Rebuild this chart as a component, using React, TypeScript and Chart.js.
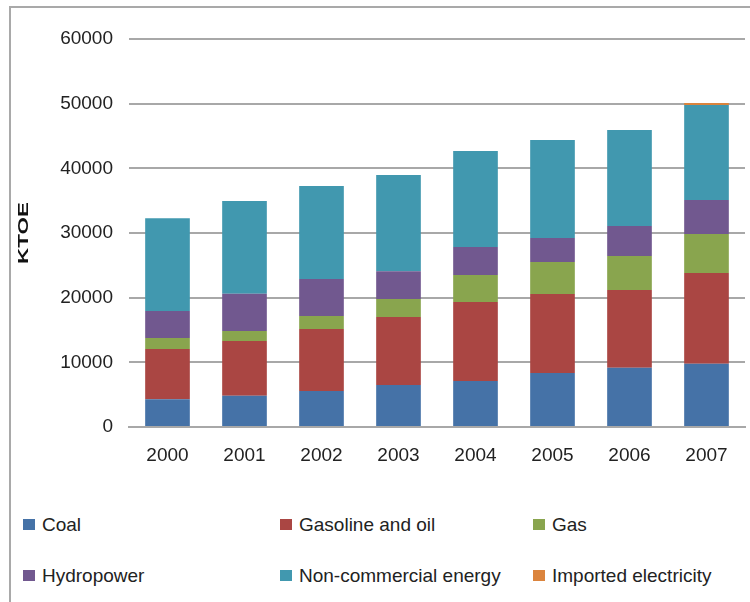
import React, { useEffect, useRef } from "react";
import { Chart, registerables } from "chart.js";

Chart.register(...registerables);

const years = ["2000", "2001", "2002", "2003", "2004", "2005", "2006", "2007"];
const coal = [4300, 4850, 5550, 6500, 7100, 8350, 9150, 9800];
const gasolineOil = [7750, 8450, 9600, 10500, 12230, 12220, 12030, 14000];
const gas = [1700, 1550, 2000, 2800, 4170, 4930, 5270, 6050];
const hydropower = [4200, 5750, 5750, 4300, 4330, 3730, 4630, 5250];
const nonCommercial = [14350, 14350, 14370, 14870, 14850, 15150, 14850, 14700];
const importedElectricity = [0, 0, 0, 0, 0, 0, 0, 300];

const seriesNames = [
  "Coal",
  "Gasoline and oil",
  "Gas",
  "Hydropower",
  "Non-commercial energy",
  "Imported electricity",
];
const seriesColors = ["#4572A7", "#AA4643", "#89A54E", "#71588F", "#4198AF", "#DB843D"];
const seriesValues = [coal, gasolineOil, gas, hydropower, nonCommercial, importedElectricity];
const yTicks = [0, 10000, 20000, 30000, 40000, 50000, 60000];

const FONT = "'Liberation Sans', Arial, Helvetica, sans-serif";

export default function App() {
  const canvasRef = useRef<HTMLCanvasElement | null>(null);

  useEffect(() => {
    const canvas = canvasRef.current;
    if (!canvas) return;
    const chart = new Chart(canvas, {
      type: "bar",
      data: {
        labels: years,
        datasets: seriesNames.map((name, i) => ({
          label: name,
          data: seriesValues[i],
          backgroundColor: seriesColors[i],
          borderWidth: 0,
          categoryPercentage: 1,
          barPercentage: 0.58,
        })),
      },
      options: {
        responsive: false,
        animation: false,
        layout: { padding: { top: 39, right: 5, left: 0, bottom: 0 } },
        plugins: {
          legend: { display: false },
          tooltip: { enabled: false },
        },
        scales: {
          x: {
            stacked: true,
            grid: { display: false, drawTicks: false },
            border: { display: true, color: "#a8a8a8", width: 2 },
            ticks: {
              padding: 17,
              color: "#222",
              font: { family: FONT, size: 19 },
            },
            afterFit: (scale: any) => {
              scale.height = 73;
            },
          },
          y: {
            stacked: true,
            min: 0,
            max: 60000,
            afterBuildTicks: (scale: any) => {
              scale.ticks = yTicks.map((v) => ({ value: v }));
            },
            grid: { color: "#a8a8a8", lineWidth: 2, drawTicks: false },
            border: { display: false },
            ticks: {
              padding: 16,
              color: "#222",
              font: { family: FONT, size: 19 },
              callback: (v: any) => String(v),
            },
            afterFit: (scale: any) => {
              scale.width = 129;
            },
          },
        },
      },
    });
    return () => chart.destroy();
  }, []);

  const colX = [23, 280, 533];
  const rowY = [525, 576];

  return (
    <div
      style={{
        position: "fixed",
        left: 0,
        top: 0,
        width: 750,
        height: 602,
        background: "#fff",
        overflow: "hidden",
        fontFamily: FONT,
      }}
    >
      <div
        style={{
          position: "absolute",
          left: 9,
          top: 6,
          width: 760,
          height: 620,
          borderLeft: "2px solid #a9a9a9",
          borderTop: "2px solid #a9a9a9",
        }}
      />
      <canvas
        ref={canvasRef}
        width={750}
        height={500}
        style={{ position: "absolute", left: 0, top: 0, width: 750, height: 500 }}
      />
      <div
        style={{
          position: "absolute",
          left: 23,
          top: 233,
          width: 0,
          height: 0,
        }}
      >
        <div
          style={{
            position: "absolute",
            left: -40,
            top: -10,
            width: 80,
            height: 20,
            lineHeight: "20px",
            textAlign: "center",
            fontWeight: "bold",
            fontSize: 14,
            color: "#111",
            transform: "rotate(-90deg) scale(1.6, 1)",
            transformOrigin: "50% 50%",
          }}
        >
          KTOE
        </div>
      </div>
      {seriesNames.map((name, i) => {
        const cx = colX[i % 3];
        const cy = rowY[Math.floor(i / 3)];
        return (
          <div key={name}>
            <div
              style={{
                position: "absolute",
                left: cx,
                top: cy - 6,
                width: 12,
                height: 11,
                background: seriesColors[i],
              }}
            />
            <div
              style={{
                position: "absolute",
                left: cx + 19,
                top: cy - 12,
                height: 24,
                lineHeight: "24px",
                fontSize: 19,
                color: "#222",
                whiteSpace: "nowrap",
              }}
            >
              {name}
            </div>
          </div>
        );
      })}
    </div>
  );
}
